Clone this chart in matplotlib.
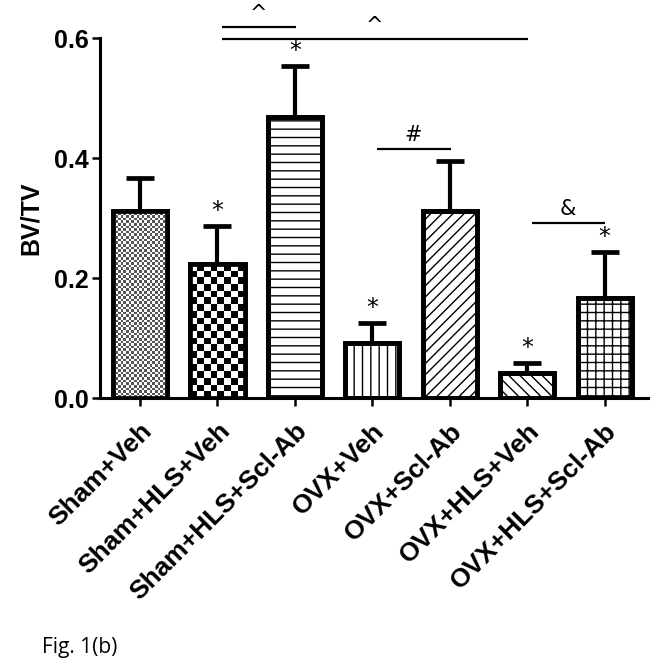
import numpy as np
import matplotlib
matplotlib.use("Agg")
import matplotlib.pyplot as plt

categories = ["Sham+Veh", "Sham+HLS+Veh", "Sham+HLS+Scl-Ab", "OVX+Veh",
              "OVX+Scl-Ab", "OVX+HLS+Veh", "OVX+HLS+Scl-Ab"]
means = [0.312, 0.223, 0.468, 0.092, 0.312, 0.042, 0.167]
errors = [0.055, 0.064, 0.085, 0.033, 0.083, 0.016, 0.076]
hatches = [None, None, "--", "||", "///", "\\\\\\", "++"]
checker_cells = [2.6, 6.8, None, None, None, None, None]  # px size of checker cells
checker_vmax = [1.5, 1.0, None, None, None, None, None]
star_bars = [1, 2, 3, 5, 6]
sig_pairs = [(1, 2), (1, 5), (3, 4), (5, 6)]
sig_levels = [0.618, 0.598, 0.415, 0.292]
sig_labels = ["^", "^", "#", "&"]
yticks = [0.0, 0.2, 0.4, 0.6]
ytick_labels = ["0.0", "0.2", "0.4", "0.6"]

plt.rcParams["font.family"] = ["Liberation Sans", "DejaVu Sans"]
plt.rcParams["hatch.linewidth"] = 1.0

W, H = 654, 663
fig = plt.figure(figsize=(W / 100, H / 100), dpi=100)
ax = fig.add_axes([100 / W, 1 - 398 / H, (648 - 100) / W, (398 - 38) / H])

x = np.arange(len(categories))
ax.set_xlim(-0.517, 6.56)
ax.set_ylim(0, 0.6)

lw_edge = 3.4
bars = ax.bar(x, means, width=0.7, facecolor="white", edgecolor="black",
              linewidth=lw_edge, zorder=2)
for b, h in zip(bars, hatches):
    if h:
        b.set_hatch(h)

# checkerboard fills
trans = ax.transData
for b, cell, vmax in zip(bars, checker_cells, checker_vmax):
    if cell is None:
        continue
    x0, w, hgt = b.get_x(), b.get_width(), b.get_height()
    p0 = trans.transform((x0, 0))
    p1 = trans.transform((x0 + w, hgt))
    nc = max(1, int(round((p1[0] - p0[0]) / cell)))
    nr = max(1, int(round((p1[1] - p0[1]) / cell)))
    ii, jj = np.indices((nr, nc))
    img = ((ii + jj) % 2).astype(float)
    im = ax.imshow(img, cmap="gray_r", vmin=0, vmax=vmax, interpolation="nearest",
                   extent=(x0, x0 + w, 0, hgt), aspect="auto", zorder=2.2)
    im.set_clip_path(b)
ax.bar(x, means, width=0.7, fill=False, edgecolor="black", linewidth=lw_edge, zorder=3)

# error bars (upper only)
ax.errorbar(x, means, yerr=[np.zeros(len(means)), errors], fmt="none",
            ecolor="black", elinewidth=3.0, capsize=10, capthick=3.4, zorder=1.5)

for i in star_bars:
    ax.text(x[i], means[i] + errors[i] + 0.005, "*", ha="center", va="bottom",
            fontsize=17, family="DejaVu Sans")

for (a, b2), lev, lab in zip(sig_pairs, sig_levels, sig_labels):
    ax.plot([x[a] + 0.06, x[b2] + 0.01], [lev, lev], color="black", lw=1.6,
            clip_on=False, solid_capstyle="butt")
    ax.text((x[a] + x[b2]) / 2 + 0.03, lev + 0.006, lab, ha="center",
            va="bottom", fontsize=15, family="DejaVu Sans")

ax.spines["top"].set_visible(False)
ax.spines["right"].set_visible(False)
ax.spines["left"].set_linewidth(2.2)
ax.spines["bottom"].set_linewidth(2.2)

ax.set_yticks(yticks)
ax.set_yticklabels(ytick_labels, fontsize=18, fontweight="bold")
ax.set_xticks(x)
ax.set_xticklabels(categories, rotation=45, ha="right", rotation_mode="anchor",
                   fontsize=19, fontweight="bold")
ax.tick_params(axis="both", direction="out", length=6, width=1.8)
ax.tick_params(axis="x", pad=9)
ax.tick_params(axis="y", pad=2)
ax.set_ylabel("BV/TV", fontsize=18, fontweight="bold", labelpad=8)

fig.text(42 / W, 1 - 647 / H, "Fig. 1(b)", fontsize=15, family="Open Sans",
         ha="left", va="center")

fig.savefig("out.png", dpi=100)
